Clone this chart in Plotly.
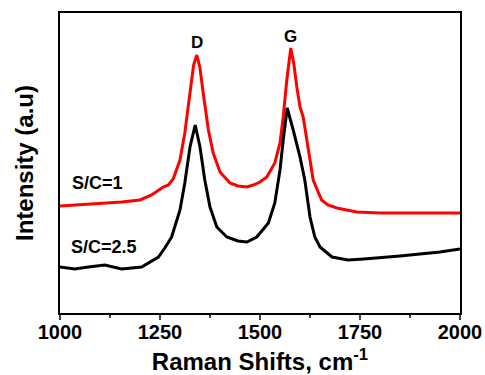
import plotly.graph_objects as go

# Raman shift (cm^-1) and intensities (arbitrary units)
wn_red = [1000, 1037, 1071, 1112, 1154, 1200, 1229, 1258, 1271, 1283, 1300, 1312, 1325, 1334, 1342, 1350, 1358,
          1371, 1383, 1400, 1425, 1445, 1467, 1483, 1500, 1517, 1537, 1550, 1558, 1567, 1577, 1585, 1592, 1600,
          1608, 1621, 1633, 1654, 1670, 1692, 1742, 1800, 1900, 2000]
int_red = [107, 108, 109, 110, 111, 113, 118, 126, 128, 134, 153, 180, 223, 248, 258, 245, 220,
           183, 160, 141, 130, 127, 126, 128, 131, 136, 150, 170, 196, 233, 265, 248, 226, 206,
           196, 163, 133, 113, 108, 105, 101, 100, 100, 100]

wn_black = [1000, 1037, 1071, 1112, 1154, 1204, 1246, 1262, 1279, 1290, 1300, 1312, 1325, 1338, 1350, 1362,
            1375, 1392, 1417, 1445, 1467, 1492, 1500, 1521, 1537, 1550, 1558, 1568, 1583, 1600, 1612, 1625,
            1637, 1650, 1680, 1720, 1760, 1800, 1850, 1900, 1950, 2000]
int_black = [46, 44, 46, 48, 44, 46, 56, 65, 76, 90, 103, 130, 166, 188, 166, 133,
             106, 86, 76, 72, 71, 76, 80, 90, 110, 143, 173, 205, 183, 156, 133, 96,
             76, 66, 56, 53, 54, 55, 57, 59, 61, 64]

peak_labels = ["D", "G"]
peak_x = [1342, 1577]
peak_y = [271, 277]

series_labels = ["S/C=1", "S/C=2.5"]
series_label_x = [1025, 1023]
series_label_y = [130, 66]

x_ticks = [1000, 1250, 1500, 1750, 2000]

FONT = "Liberation Sans, Arial"

fig = go.Figure()
fig.add_trace(go.Scatter(x=wn_red, y=int_red, mode="lines", line=dict(color="#ff0000", width=3)))
fig.add_trace(go.Scatter(x=wn_black, y=int_black, mode="lines", line=dict(color="#000000", width=3)))

for t, x, y in zip(peak_labels, peak_x, peak_y):
    fig.add_annotation(x=x, y=y, text=t, showarrow=False, xanchor="center", yanchor="middle",
                       font=dict(family=FONT, size=17, color="#000", weight="bold"))
for t, x, y in zip(series_labels, series_label_x, series_label_y):
    fig.add_annotation(x=x, y=y, text=t, showarrow=False, xanchor="left", yanchor="middle",
                       font=dict(family=FONT, size=18, color="#000", weight="bold"))

fig.update_layout(
    width=485, height=375,
    margin=dict(l=60, r=25, t=13, b=62),
    paper_bgcolor="white", plot_bgcolor="white",
    showlegend=False,
    font=dict(family=FONT, color="#000"),
    xaxis=dict(range=[1000, 2000], tickvals=x_ticks, ticks="outside", ticklen=5, tickwidth=2,
               showline=True, linewidth=2, linecolor="#000", mirror=True, showgrid=False, zeroline=False,
               automargin=False, tickfont=dict(size=20, weight="bold"), ticklabelstandoff=-5,
               minor=dict(ticks="outside", ticklen=3, tickwidth=2, dtick=125, tick0=1000, showgrid=False),
               title=dict(text="Raman Shifts, cm<sup>-1</sup>", font=dict(size=24, weight="bold"), standoff=19)),
    yaxis=dict(range=[0, 300], showticklabels=False, ticks="", showline=True, linewidth=2, linecolor="#000",
               mirror=True, showgrid=False, zeroline=False, automargin=False,
               title=dict(text="Intensity (a.u)", font=dict(size=24, weight="bold"), standoff=18)),
)

fig.write_html("out.html", config={"displayModeBar": False},
               post_script="document.body.style.margin='0';document.body.style.overflow='hidden';")
